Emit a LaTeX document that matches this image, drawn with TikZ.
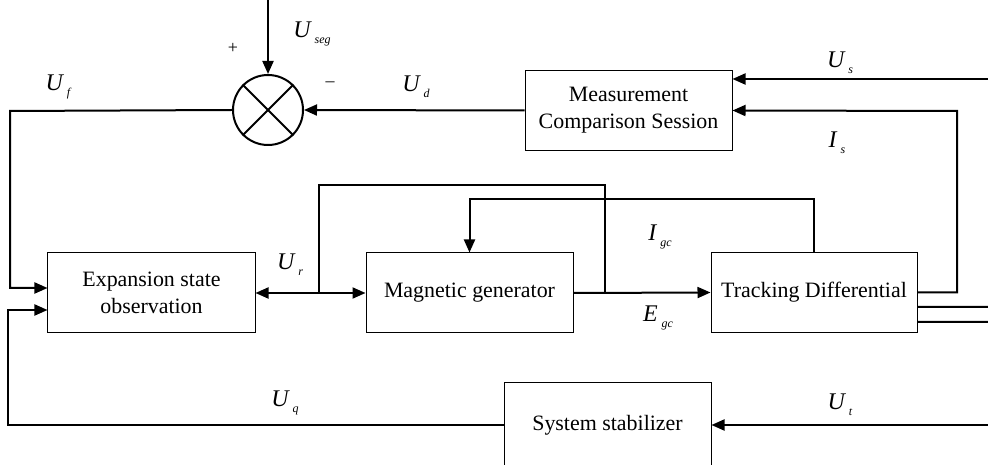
\documentclass[tikz,border=0pt]{standalone}
\usepackage{fontspec}
\setmainfont{Liberation Serif}
\usetikzlibrary{arrows.meta,positioning}
\tikzset{
	blk/.style={draw,line width=1bp,align=center,minimum width=207bp,minimum height=80bp,inner sep=0pt,font=\fontsize{22}{27}\selectfont},
	sig/.style={line width=2bp},
	arr/.style={sig,-{Triangle[length=13bp,width=11bp]}},
	lbl/.style={inner sep=0pt,font=\fontsize{24}{24}\selectfont\itshape}
}
\newcommand{\sgl}[2]{#1\hspace{4bp}\raisebox{-6bp}{\fontsize{12}{12}\selectfont #2}}
\begin{document}
\begin{tikzpicture}[x=1bp,y=-1bp]
	\clip (0,0) rectangle (988,465);
	\useasboundingbox (0,0) rectangle (988,465);
	% blocks
	\node[blk] (meas) at (628.5,110.5) {Measurement\\Comparison Session};
	\node[blk] (eso) at (151.5,293) {Expansion state\\observation};
	\node[blk] (mg) at (469.5,293) {Magnetic generator};
	\node[blk,minimum width=206bp] (td) at (814,292.5) {Tracking Differential};
	\node[blk,minimum height=84bp] (ss) at (607.5,425) {System stabilizer};
	\node[draw,circle,line width=2bp,minimum size=70bp,inner sep=0pt] (sum) at (268,110) {};
	\draw[line width=2bp] (sum.45) -- (sum.225) (sum.135) -- (sum.315);
	% free ends
	\coordinate (segin) at (268,0);
	\coordinate (fl) at (10,111);
	\coordinate (ql) at (8,425);
	\coordinate (jr) at (319,293);
	\coordinate (jm) at (605,293);
	\coordinate (isc) at (957,111);
	\coordinate (usin) at (988,79);
	\coordinate (utin) at (988,425);
	\coordinate (o1) at (988,307);
	\coordinate (o2) at (988,322);
	% connectors
	\draw[arr] (segin) -- (sum.north);
	\draw[arr] (meas.west) -- (sum.east);
	\draw[arr] (sum.west) -- (fl) |- ([yshift=5bp]eso.west);
	\draw[arr] (ss.west) -- (ql) |- ([yshift=-17bp]eso.west);
	\draw[sig,{Triangle[length=13bp,width=11bp]}-{Triangle[length=13bp,width=11bp]}] (eso.east) -- (mg.west);
	\draw[arr] (mg.east) -- (td.west);
	\draw[sig] (jr) -- (319,185) -| (jm);
	\draw[arr] (td.north) -- ++(0,-53) -| (mg.north);
	\draw[arr] (td.east) -| (isc) -- (meas.east);
	\draw[arr] (usin) -- (meas.east |- usin);
	\draw[sig] ([yshift=-14.5bp]td.east) -- (o1);
	\draw[sig] ([yshift=-29.5bp]td.east) -- (o2);
	\draw[arr] (utin) -- (ss.east);
	% labels
	\node[lbl] (lseg) at (312,34) {\sgl{U}{seg}};
	\node[inner sep=0pt,font=\fontsize{18}{18}\selectfont] (plus) at (233,48) {+};
	\node[inner sep=0pt,font=\fontsize{18}{18}\selectfont] (minus) at (330,84) {\textendash};
	\node[lbl] (lud) at (416,87) {\sgl{U}{d}};
	\node[lbl] (luf) at (58,87) {\sgl{U}{f}};
	\node[lbl] (lus) at (840,63) {\sgl{U}{s}};
	\node[lbl] (lis) at (837,143) {\sgl{I}{s}};
	\node[lbl] (lur) at (290,265) {\sgl{U}{r}};
	\node[lbl] (ligc) at (660,237) {\sgl{I}{gc}};
	\node[lbl] (legc) at (658,318) {\sgl{E}{gc}};
	\node[lbl] (luq) at (285,403) {\sgl{U}{q}};
	\node[lbl] (lut) at (840,405) {\sgl{U}{t}};
\end{tikzpicture}
\end{document}
